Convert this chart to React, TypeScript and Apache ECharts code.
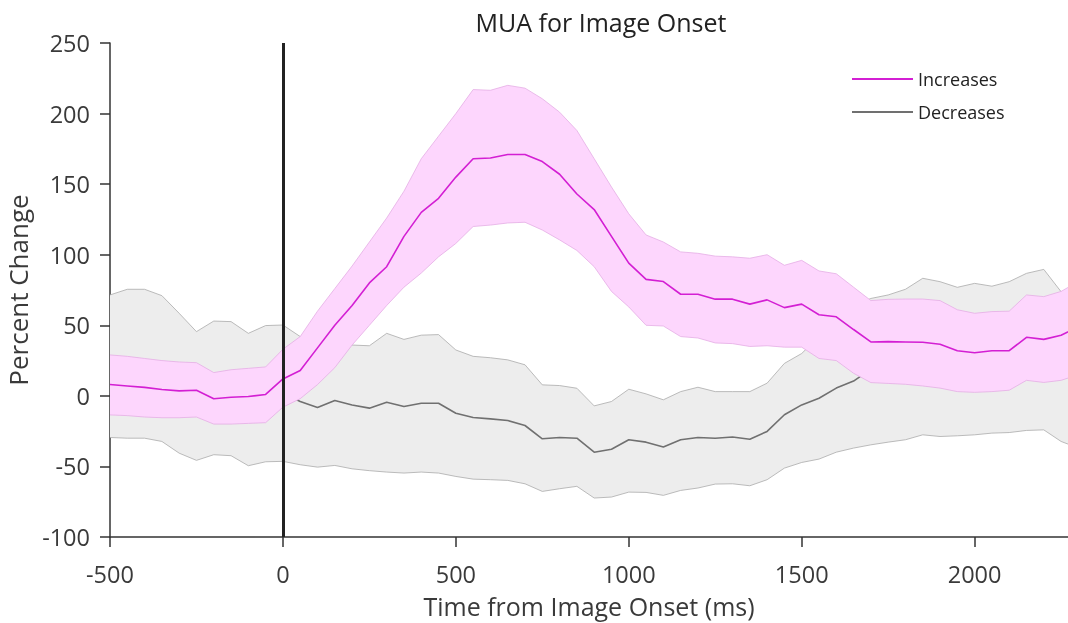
import React, { useEffect, useRef } from "react";
import * as echarts from "echarts";

const times = [
  -500, -450, -400, -350, -300, -250, -200, -150, -100, -50, 0, 50, 100, 150, 200, 250, 300, 350, 400, 450,
  500, 550, 600, 650, 700, 750, 800, 850, 900, 950, 1000, 1050, 1100, 1150, 1200, 1250, 1300, 1350, 1400,
  1450, 1500, 1550, 1600, 1650, 1700, 1750, 1800, 1850, 1900, 1950, 2000, 2050, 2100, 2150, 2200, 2250, 2300,
];

const incMean = [
  8, 7, 6, 4.5, 3.5, 4, -2, -1, -0.5, 1, 12, 18, 34, 50, 64, 80, 91.5, 113, 130, 140,
  155, 168, 168.5, 171, 171, 166, 157, 143, 132, 113, 94, 82.5, 81, 72, 72, 68.5, 68.5, 65, 68,
  62.5, 65, 57.5, 56, 47, 38.2, 38.4, 38.2, 38, 36.6, 32, 30.5, 32, 32, 41.5, 40, 43, 49,
];
const incUpper = [
  29, 28, 26.5, 25, 24, 23.5, 16.5, 18.5, 19.5, 20.5, 33, 42, 60, 76, 92, 109, 126, 145, 168, 184,
  200, 217, 216.5, 220, 218, 210.5, 201, 188, 168, 148, 129, 114, 109, 102, 101, 99, 98.5, 97.5, 100,
  92.5, 96, 88.5, 86.5, 77, 67.5, 68.4, 68.6, 68.6, 67.5, 61, 58.5, 59.7, 60, 71.5, 70.3, 74, 81,
];
const incLower = [
  -13.5, -14, -15, -15.5, -15.5, -15, -20, -20, -19.5, -19, -8, -2, 8, 20, 36, 50, 64, 77, 87, 98.5,
  108, 120, 121, 122.5, 123, 117.5, 110.5, 103, 91.5, 74, 63, 50, 49.5, 42, 41, 37.5, 37, 35, 35.5,
  34.5, 34.5, 26.5, 25, 16, 9.4, 8.8, 8.2, 7, 5.5, 3, 2.5, 3, 4, 11, 9.5, 11, 15,
];

const decMean = [
  6, 7, 5, 4, 3, 2, 0, 1, 2, 1, 2, -4, -8.3, -3.3, -6.5, -8.7, -4.5, -7.5, -5.2, -5.2,
  -12.3, -15.3, -16.3, -17.5, -21, -30.4, -29.5, -30, -39.9, -37.8, -31.1, -32.8, -36.3, -31.1, -29.5, -30, -29.2, -30.7, -25.2,
  -13.4, -6.4, -1.7, 5.5, 10.5, 19, 22, 24, 26, 27, 27, 28, 28, 29, 30, 30, 28, 26,
];
const decUpper = [
  71.5, 75.5, 75.5, 71, 58.5, 45.5, 53, 52.6, 44.3, 49.8, 50.2, 42, 40, 37, 36, 35.5, 44.3, 40, 43, 43.4,
  32.5, 28, 27, 25.5, 22, 7.8, 7.3, 5.4, -7.1, -4, 4.7, 1.4, -2.8, 3, 6.1, 3, 3, 3, 9,
  23, 30, 42, 55, 64, 69, 71.5, 75.5, 83.3, 80.9, 76.9, 79.7, 77.7, 80.9, 86.8, 89.6, 73.8, 62,
];
const decLower = [
  -29.5, -30, -30, -32.3, -40.6, -45.7, -41.7, -42.4, -49.5, -46.7, -46.4, -48.8, -50.5, -49.3, -51.7, -53, -54, -54.7, -54, -54.7,
  -57.1, -59, -59.4, -59.9, -62.3, -67.7, -65.8, -64.1, -72.4, -71.7, -68.2, -68.4, -70.5, -67, -65.3, -62.5, -62.3, -63.7, -59.4,
  -51.2, -47.2, -44.8, -39.9, -37, -34.7, -32.8, -31.1, -27.6, -28.8, -28.3, -27.6, -26.4, -26, -24.5, -24.1, -32.3, -37,
];

const xTicks = [-500, 0, 500, 1000, 1500, 2000];
const yTicks = [-100, -50, 0, 50, 100, 150, 200, 250];
const seriesNames = ["Increases", "Decreases"];

const pairs = (vals: number[]) => times.map((t, i) => [t, vals[i]]);

const FONT = "Open Sans";
const TXT = "#3a3a3a";
const PINK = "#D31FD3";
const PINK_FILL = "#FDD6FD";
const PINK_EDGE = "#E4ADE4";
const GRAY = "#707070";
const GRAY_FILL = "#EDEDED";
const GRAY_EDGE = "#ABABAB";

const bandSeries = (name: string, lo: number[], hi: number[], fill: string, edge: string, z: number) => ({
  type: "custom",
  name,
  z,
  silent: true,
  clip: true,
  data: times.map((t, i) => [t, lo[i], hi[i]]),
  encode: { x: 0, y: [1, 2] },
  renderItem: (params: any, api: any) => {
    if (params.dataIndex !== 0) return null;
    const upper = times.map((t, i) => api.coord([t, hi[i]]));
    const lower = times.map((t, i) => api.coord([t, lo[i]]));
    return {
      type: "group",
      children: [
        {
          type: "polygon",
          shape: { points: upper.concat(lower.slice().reverse()) },
          style: { fill, stroke: null },
        },
        { type: "polyline", shape: { points: upper }, style: { fill: null, stroke: edge, lineWidth: 0.8 } },
        { type: "polyline", shape: { points: lower }, style: { fill: null, stroke: edge, lineWidth: 0.8 } },
      ],
    };
  },
});

export default function App() {
  const ref = useRef<HTMLDivElement>(null);
  useEffect(() => {
    if (!ref.current) return;
    const chart = echarts.init(ref.current, null, { renderer: "svg" });
    chart.setOption({
      animation: false,
      textStyle: { fontFamily: FONT },
      title: {
        text: "MUA for Image Onset",
        left: 596,
        top: 4,
        textAlign: "center",
        textStyle: { fontFamily: FONT, fontSize: 25, fontWeight: "normal", color: "#222" },
      },
      legend: {
        data: seriesNames.map((n) => ({ name: n, icon: "rect" })),
        orient: "vertical",
        left: 852,
        top: 69,
        padding: 0,
        itemWidth: 61,
        itemHeight: 2,
        itemGap: 13,
        selectedMode: false,
        textStyle: { fontFamily: FONT, fontSize: 18, color: "#222", lineHeight: 20 },
      },
      grid: { left: 110, right: 0, top: 43, bottom: 86, containLabel: false, outerBoundsMode: "none" },
      xAxis: {
        type: "value",
        min: -500,
        max: 2270,
        interval: 500,
        name: "Time from Image Onset (ms)",
        nameLocation: "middle",
        nameGap: 56,
        nameTextStyle: { fontFamily: FONT, fontSize: 25, color: TXT },
        axisLine: { show: true, onZero: false, lineStyle: { color: "#333", width: 1.5 } },
        axisTick: { show: true, inside: false, length: 10, customValues: xTicks, lineStyle: { color: "#333", width: 1.5 } },
        axisLabel: {
          customValues: xTicks,
          margin: 25,
          fontFamily: FONT,
          fontSize: 23.5,
          color: TXT,
          formatter: (v: number) => String(v),
        },
        splitLine: { show: false },
      },
      yAxis: {
        type: "value",
        min: -100,
        max: 250,
        interval: 50,
        name: "Percent Change",
        nameLocation: "middle",
        nameGap: 71,
        nameTextStyle: { fontFamily: FONT, fontSize: 26, color: TXT },
        axisLine: { show: true, onZero: false, lineStyle: { color: "#333", width: 1.5 } },
        axisTick: { show: true, inside: false, length: 10, customValues: yTicks, lineStyle: { color: "#333", width: 1.5 } },
        axisLabel: {
          customValues: yTicks,
          margin: 20,
          fontFamily: FONT,
          fontSize: 23.5,
          color: TXT,
          formatter: (v: number) => String(v),
        },
        splitLine: { show: false },
      },
      series: [
        bandSeries("decBand", decLower, decUpper, GRAY_FILL, GRAY_EDGE, 1),
        {
          name: "Decreases",
          type: "line",
          data: pairs(decMean),
          showSymbol: false,
          symbol: "none",
          z: 2,
          color: GRAY,
          itemStyle: { color: GRAY },
          lineStyle: { color: GRAY, width: 1.6 },
        },
        bandSeries("incBand", incLower, incUpper, PINK_FILL, PINK_EDGE, 3),
        {
          name: "Increases",
          type: "line",
          data: pairs(incMean),
          showSymbol: false,
          symbol: "none",
          z: 4,
          color: PINK,
          itemStyle: { color: PINK },
          lineStyle: { color: PINK, width: 1.6 },
          markLine: {
            silent: true,
            symbol: "none",
            label: { show: false },
            lineStyle: { color: "#222", width: 3, type: "solid" },
            data: [{ xAxis: 0 }],
            z: 10,
          },
        },
      ],
    });
    return () => chart.dispose();
  }, []);
  return <div ref={ref} style={{ position: "fixed", left: 0, top: 0, width: 1068, height: 623 }} />;
}
